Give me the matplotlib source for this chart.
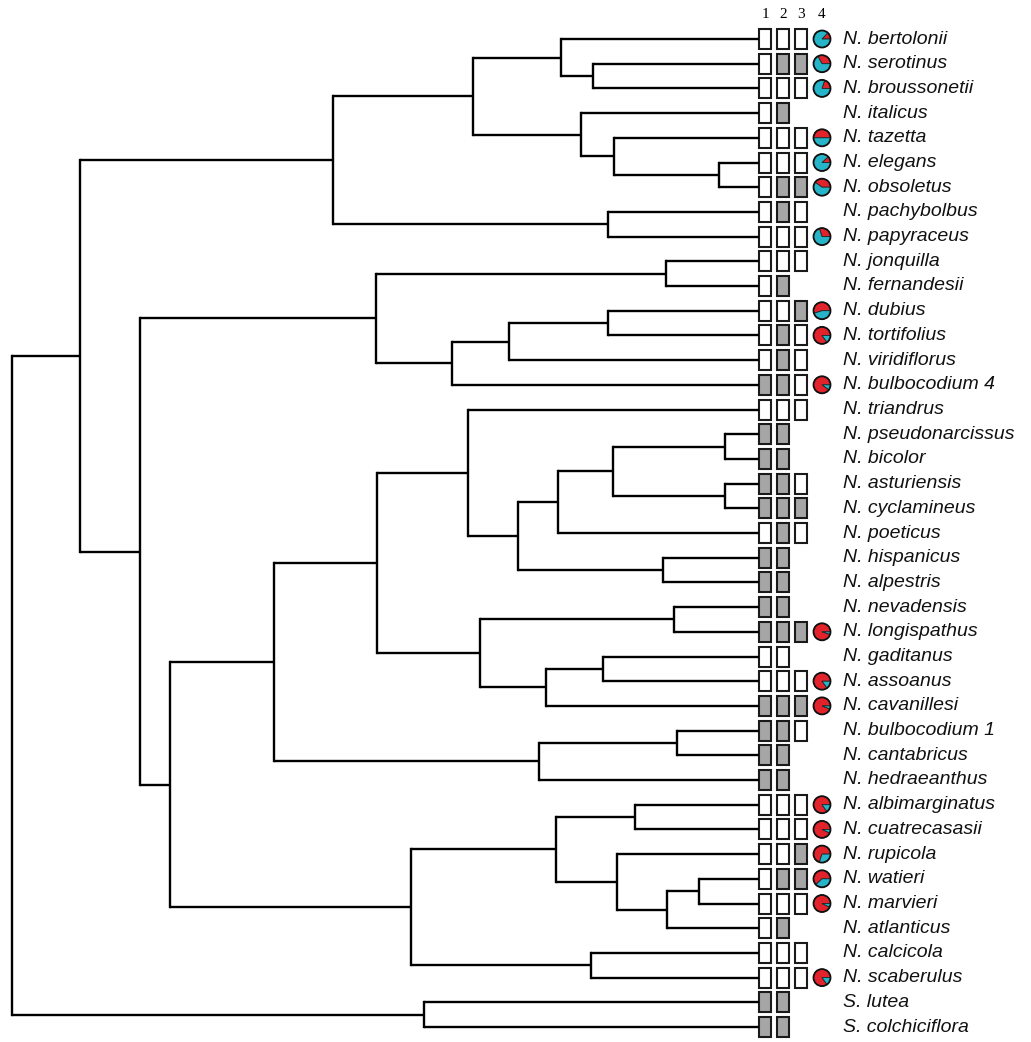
import numpy as np
import matplotlib.pyplot as plt
from matplotlib.patches import Rectangle, Wedge, Circle

# Дърво (Newick) с дължини на клоните, прочетени от картинката
B1a = "(N._bertolonii:198,(N._serotinus:166,N._broussonetii:166):32)"
B1b = "(N._italicus:178,(N._tazetta:145,(N._elegans:40,N._obsoletus:40):105):33)"
B2 = "(N._pachybolbus:151,N._papyraceus:151)"
B = "((" + B1a + ":88," + B1b + ":108):140," + B2 + ":275)"
D2 = "(((N._dubius:151,N._tortifolius:151):99,N._viridiflorus:250):57,N._bulbocodium_4:307)"
D = "((N._jonquilla:93,N._fernandesii:93):290," + D2 + ":76)"
K = "((N._pseudonarcissus:34,N._bicolor:34):112,(N._asturiensis:34,N._cyclamineus:34):112)"
L = "((" + K + ":55,N._poeticus:201):40,(N._hispanicus:96,N._alpestris:96):145)"
H1 = "(N._triandrus:291," + L + ":50)"
H2 = "((N._nevadensis:85,N._longispathus:85):194,((N._gaditanus:156,N._assoanus:156):57,N._cavanillesi:213):66)"
I = "((N._bulbocodium_1:82,N._cantabricus:82):138,N._hedraeanthus:220)"
F = "((" + H1 + ":91," + H2 + ":103):103," + I + ":265)"
G1 = "((N._albimarginatus:124,N._cuatrecasasii:124):79,(N._rupicola:142,((N._watieri:60,N._marvieri:60):32,N._atlanticus:92):50):61)"
G = "(" + G1 + ":145,(N._calcicola:168,N._scaberulus:168):180)"
C = "(" + D + ":236,(" + F + ":104," + G + ":241):30)"
A = "(" + B + ":253," + C + ":60)"
newick = "(" + A + ":68,(S._lutea:335,S._colchiciflora:335):412);"

# Признаци 1-3: 1 = сиво, 0 = бяло, None = няма
char1 = [0, 0, 0, 0, 0, 0, 0, 0, 0, 0, 0, 0, 0, 0, 1, 0, 1, 1, 1, 1, 0,
         1, 1, 1, 1, 0, 0, 1, 1, 1, 1, 0, 0, 0, 0, 0, 0, 0, 0, 1, 1]
char2 = [0, 1, 0, 1, 0, 0, 1, 1, 0, 0, 1, 0, 1, 1, 1, 0, 1, 1, 1, 1, 1,
         1, 1, 1, 1, 0, 0, 1, 1, 1, 1, 0, 0, 0, 1, 0, 1, 0, 0, 1, 1]
char3 = [0, 1, 0, None, 0, 0, 1, 0, 0, 0, None, 1, 0, 0, 0, 0, None, None, 0, 1, 0,
         None, None, None, 1, None, 0, 1, 0, None, None, 0, 0, 1, 1, 0, None, 0, 0, None, None]
# Признак 4: дял на червеното в кръговата диаграма
red_share = [0.13, 0.33, 0.2, None, 0.5, 0.12, 0.4, None, 0.3, None, None, 0.55, 0.85,
             None, 0.9, None, None, None, None, None, None, None, None, None, 0.95, None,
             0.85, 0.94, None, None, None, 0.85, 0.93, 0.7, 0.62, 0.93, None, None, 0.85,
             None, None]

RED = '#e3232c'
CYAN = '#25b4c8'
GREY = '#a6a6a6'


def parse(s):
    pos = [0]

    def node():
        n = {'children': [], 'name': '', 'length': 0.0}
        if s[pos[0]] == '(':
            pos[0] += 1
            n['children'].append(node())
            while s[pos[0]] == ',':
                pos[0] += 1
                n['children'].append(node())
            pos[0] += 1  # ')'
        start = pos[0]
        while s[pos[0]] not in ':,();':
            pos[0] += 1
        n['name'] = s[start:pos[0]].replace('_', ' ')
        if s[pos[0]] == ':':
            pos[0] += 1
            start = pos[0]
            while s[pos[0]] not in ',();':
                pos[0] += 1
            n['length'] = float(s[start:pos[0]])
        return n
    return node()


root = parse(newick)

x0 = 12        # позиция на корена
y0 = 39        # първи връх
step = 24.7    # разстояние между върховете

tips = []


def layout(n, x):
    n['x'] = x + n['length']
    if not n['children']:
        n['y'] = y0 + step * len(tips)
        tips.append(n)
    else:
        for c in n['children']:
            layout(c, n['x'])
        n['y'] = np.mean([c['y'] for c in n['children']])


layout(root, x0)

fig = plt.figure(figsize=(10.31, 10.42), dpi=100)
ax = fig.add_axes([0, 0, 1, 1])
ax.set_xlim(0, 1031)
ax.set_ylim(1042, 0)
ax.axis('off')

lw = 1.7


def draw(n):
    if n['children']:
        ys = [c['y'] for c in n['children']]
        ax.plot([n['x'], n['x']], [min(ys), max(ys)], color='black', lw=lw, solid_capstyle='projecting')
        for c in n['children']:
            ax.plot([n['x'], c['x']], [c['y'], c['y']], color='black', lw=lw, solid_capstyle='butt')
            draw(c)


draw(root)

# Кутийки и кръгови диаграми
box_x = [765, 783, 801]
box_w, box_h = 11.5, 20
pie_x, pie_r = 822, 8.5
for i, t in enumerate(tips):
    y = t['y']
    for bx, val in zip(box_x, [char1[i], char2[i], char3[i]]):
        if val is None:
            continue
        ax.add_patch(Rectangle((bx - box_w / 2, y - box_h / 2), box_w, box_h,
                               facecolor=GREY if val else 'white', edgecolor='#1a1a1a', lw=1.5))
    f = red_share[i]
    if f is not None:
        a = 360 * f
        ax.add_patch(Wedge((pie_x, y), pie_r, -a, 0, facecolor=RED, edgecolor='#222222', lw=0.6))
        ax.add_patch(Wedge((pie_x, y), pie_r, 0, 360 - a, facecolor=CYAN, edgecolor='#222222', lw=0.6))
        ax.add_patch(Circle((pie_x, y), pie_r, facecolor='none', edgecolor='#111111', lw=1.3))
    ax.text(843, y, t['name'], fontsize=14, style='italic', family='Liberation Sans',
            va='center', ha='left', color='#111111')

for k, hx in enumerate(box_x + [pie_x]):
    ax.text(hx, 14, str(k + 1), fontsize=11, family='Liberation Serif', ha='center', va='center')

plt.savefig('out.png', dpi=100, facecolor='white')
